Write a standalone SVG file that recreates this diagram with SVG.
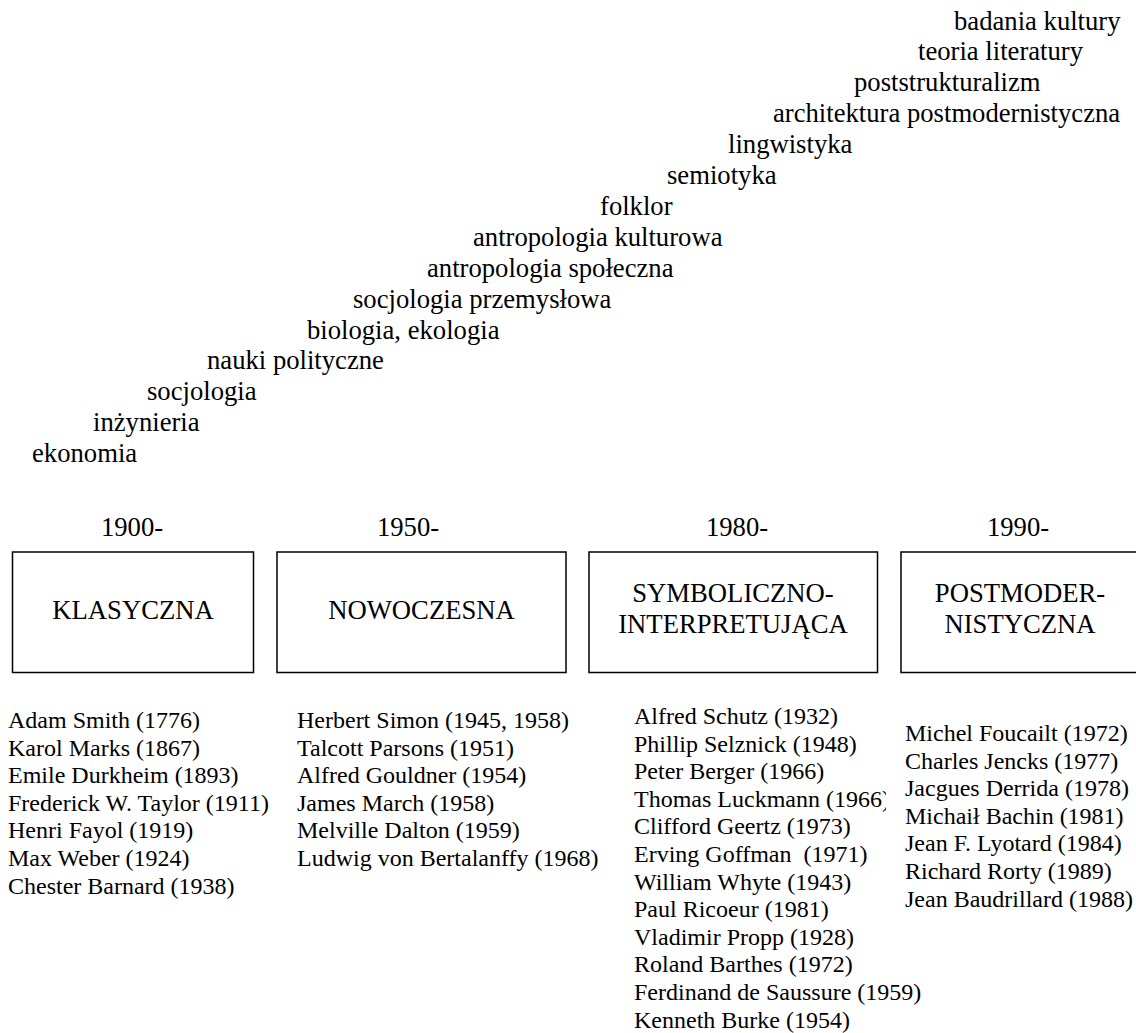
<svg xmlns="http://www.w3.org/2000/svg" width="1136" height="1033" viewBox="0 0 1136 1033">
  <style>
    text { font-family: "Liberation Serif", "Times New Roman", serif; fill: #000; }
    .big { font-size: 26.67px; }
    .list { font-size: 24px; }
    .box { fill: #fff; stroke: #000; stroke-width: 1.5; }
    .mid { text-anchor: middle; }
  </style>
  <defs>
    <!-- the Luckmann line is cut off by its text frame -->
    <clipPath id="clip-luckmann">
      <rect x="600" y="780" width="286" height="40"/>
    </clipPath>
  </defs>
  <rect width="1136" height="1033" fill="#fff"/>

  <!-- Disciplines, stepping up to the right -->
  <g id="disciplines" class="big">
    <text x="954" y="29.5">badania kultury</text>
    <text x="918" y="60.4">teoria literatury</text>
    <text x="854" y="91.3">poststrukturalizm</text>
    <text x="773" y="122.2">architektura postmodernistyczna</text>
    <text x="728" y="153.1">lingwistyka</text>
    <text x="667" y="184">semiotyka</text>
    <text x="600" y="214.9">folklor</text>
    <text x="473" y="245.8">antropologia kulturowa</text>
    <text x="427" y="276.7">antropologia społeczna</text>
    <text x="353" y="307.6">socjologia przemysłowa</text>
    <text x="307" y="338.5">biologia, ekologia</text>
    <text x="207" y="369.4">nauki polityczne</text>
    <text x="147" y="400.3">socjologia</text>
    <text x="93" y="431.2">inżynieria</text>
    <text x="32" y="462.1">ekonomia</text>
  </g>

  <!-- Period start years -->
  <g id="years" class="big mid">
    <text x="132" y="536">1900-</text>
    <text x="408" y="536">1950-</text>
    <text x="737" y="536">1980-</text>
    <text x="1018" y="536">1990-</text>
  </g>

  <!-- Period boxes -->
  <g id="klasyczna">
    <rect class="box" x="12.5" y="552" width="241" height="120.5"/>
    <text class="big mid" x="133" y="619">KLASYCZNA</text>
  </g>
  <g id="nowoczesna">
    <rect class="box" x="277" y="552" width="289" height="120.5"/>
    <text class="big mid" x="421.5" y="619">NOWOCZESNA</text>
  </g>
  <g id="symboliczno-interpretujaca">
    <rect class="box" x="589" y="552" width="288.5" height="120.5"/>
    <text class="big mid" x="733" y="602">SYMBOLICZNO-</text>
    <text class="big mid" x="733" y="633">INTERPRETUJĄCA</text>
  </g>
  <g id="postmodernistyczna">
    <rect class="box" x="901" y="552" width="245" height="120.5"/>
    <text class="big mid" x="1020" y="602">POSTMODER-</text>
    <text class="big mid" x="1020" y="633">NISTYCZNA</text>
  </g>

  <!-- Authors under each period -->
  <g id="authors-klasyczna" class="list">
    <text x="8" y="728">Adam Smith (1776)</text>
    <text x="8" y="755.6">Karol Marks (1867)</text>
    <text x="8" y="783.2">Emile Durkheim (1893)</text>
    <text x="8" y="810.8">Frederick W. Taylor (1911)</text>
    <text x="8" y="838.4">Henri Fayol (1919)</text>
    <text x="8" y="866">Max Weber (1924)</text>
    <text x="8" y="893.6">Chester Barnard (1938)</text>
  </g>
  <g id="authors-nowoczesna" class="list">
    <text x="297" y="728">Herbert Simon (1945, 1958)</text>
    <text x="297" y="755.6">Talcott Parsons (1951)</text>
    <text x="297" y="783.2">Alfred Gouldner (1954)</text>
    <text x="297" y="810.8">James March (1958)</text>
    <text x="297" y="838.4">Melville Dalton (1959)</text>
    <text x="297" y="866">Ludwig von Bertalanffy (1968)</text>
  </g>
  <g id="authors-symboliczno-interpretujaca" class="list">
    <text x="634" y="724">Alfred Schutz (1932)</text>
    <text x="634" y="751.6">Phillip Selznick (1948)</text>
    <text x="634" y="779.2">Peter Berger (1966)</text>
    <text x="634" y="806.8" clip-path="url(#clip-luckmann)">Thomas Luckmann (1966)</text>
    <text x="634" y="834.4">Clifford Geertz (1973)</text>
    <text x="634" y="862" xml:space="preserve">Erving Goffman  (1971)</text>
    <text x="634" y="889.6">William Whyte (1943)</text>
    <text x="634" y="917.2">Paul Ricoeur (1981)</text>
    <text x="634" y="944.8">Vladimir Propp (1928)</text>
    <text x="634" y="972.4">Roland Barthes (1972)</text>
    <text x="634" y="1000">Ferdinand de Saussure (1959)</text>
    <text x="634" y="1027.6">Kenneth Burke (1954)</text>
  </g>
  <g id="authors-postmodernistyczna" class="list">
    <text x="905" y="741">Michel Foucailt (1972)</text>
    <text x="905" y="768.6">Charles Jencks (1977)</text>
    <text x="905" y="796.2">Jacgues Derrida (1978)</text>
    <text x="905" y="823.8">Michaił Bachin (1981)</text>
    <text x="905" y="851.4">Jean F. Lyotard (1984)</text>
    <text x="905" y="879">Richard Rorty (1989)</text>
    <text x="905" y="906.6">Jean Baudrillard (1988)</text>
  </g>
</svg>
